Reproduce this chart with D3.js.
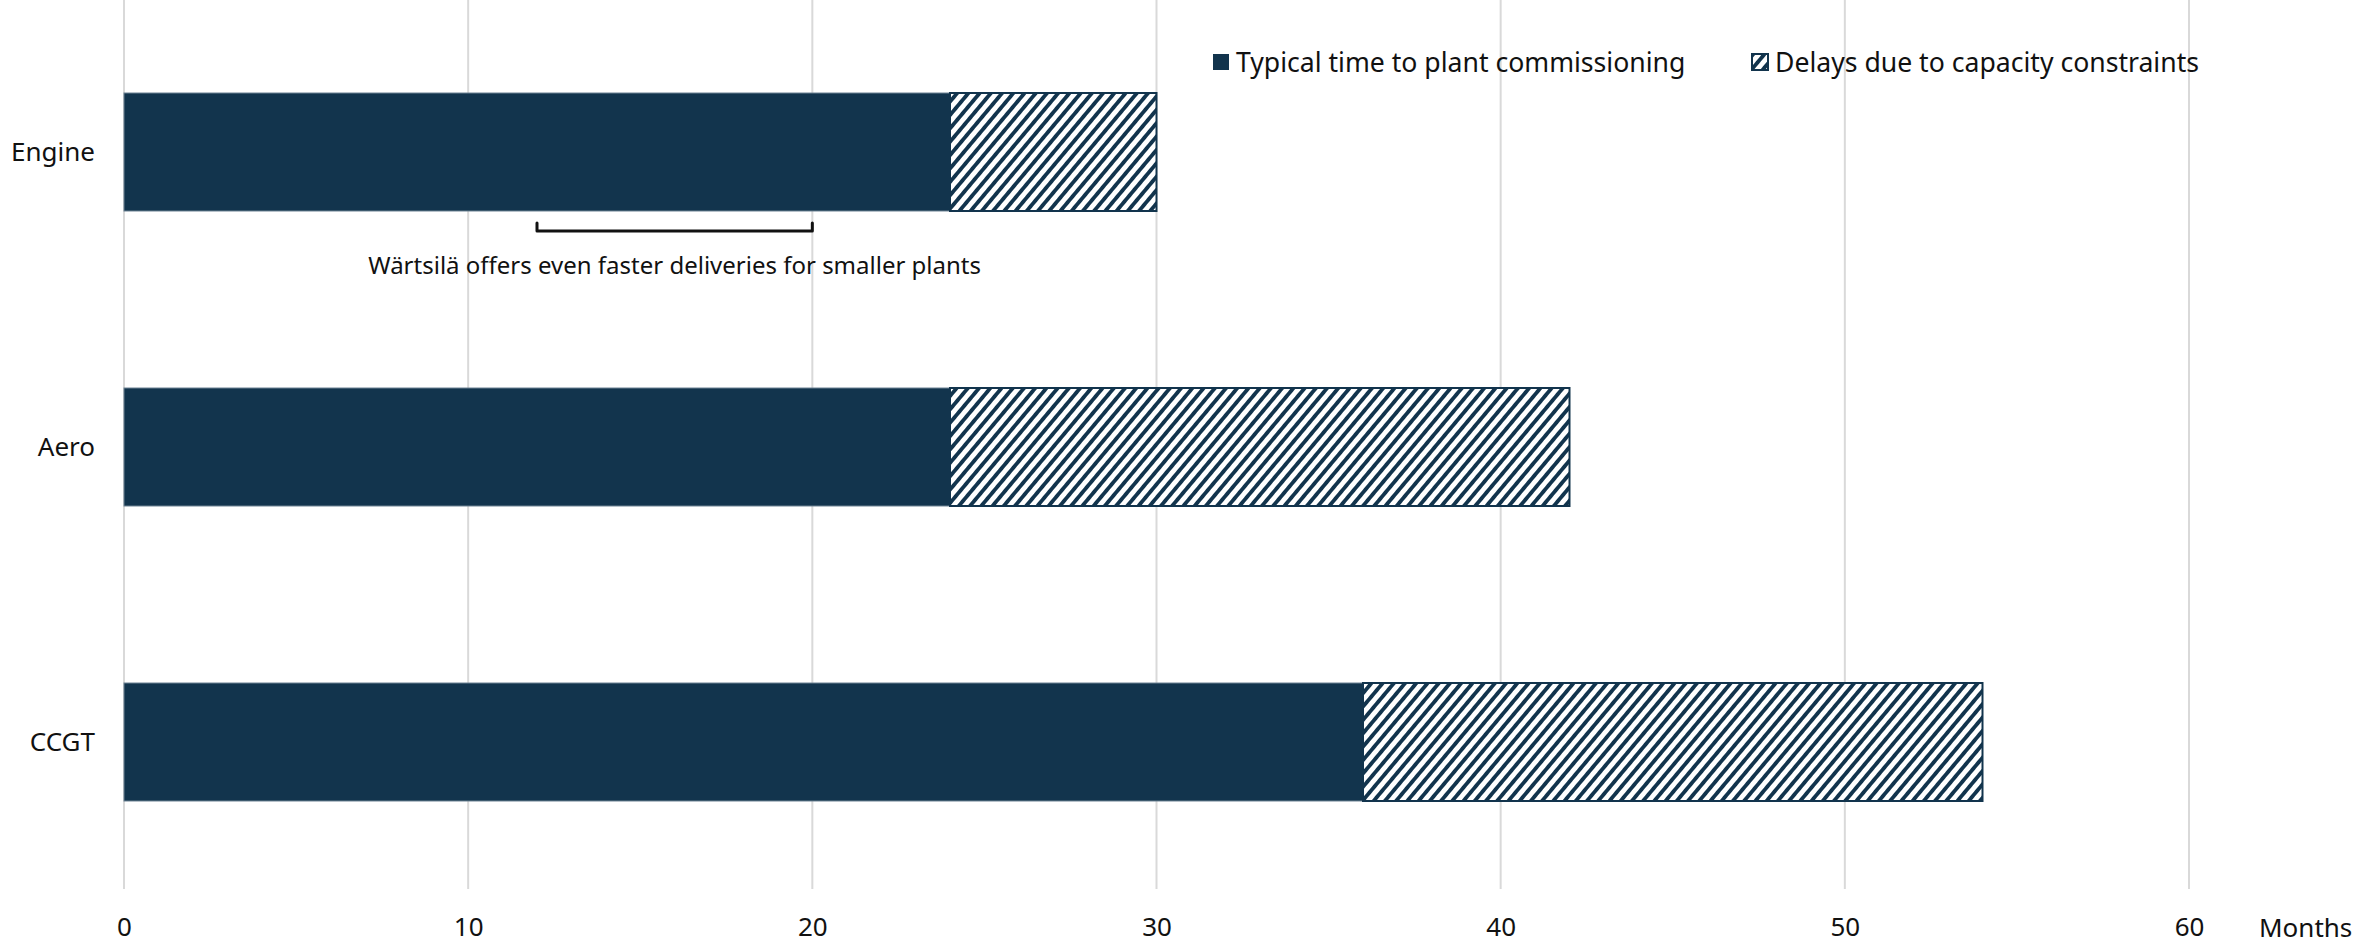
<!DOCTYPE html>
<html>
<head>
<meta charset="utf-8">
<script src="https://cdn.jsdelivr.net/npm/d3@7"></script>
<style>
  html, body { margin: 0; padding: 0; background: #fff; }
  svg text { font-family: "Noto Sans", "Open Sans", sans-serif; fill: #111; }
</style>
</head>
<body>
<div id="chart"></div>
<script>
const categories = ["Engine", "Aero", "CCGT"];
const typicalTime = [24, 24, 36];
const delays = [6, 18, 18];
const xTicks = [0, 10, 20, 30, 40, 50, 60];
const seriesNames = ["Typical time to plant commissioning", "Delays due to capacity constraints"];
const note = { from: 12, to: 20, category: "Engine", text: "Wärtsilä offers even faster deliveries for smaller plants" };

const width = 2369, height = 944;
const navy = "#12344d";
const grid = "#d9d9d9";

const svg = d3.select("#chart").append("svg")
    .attr("width", width)
    .attr("height", height);

// hatch pattern, upward diagonal
const defs = svg.append("defs");
defs.append("pattern")
    .attr("id", "hatch")
    .attr("patternUnits", "userSpaceOnUse")
    .attr("width", 8.6)
    .attr("height", 8.6)
    .attr("patternTransform", "rotate(40)")
    .call(p => {
        p.append("rect").attr("width", 8.6).attr("height", 8.6).attr("fill", "#fff");
        p.append("line")
            .attr("x1", 1.9).attr("x2", 1.9)
            .attr("y1", 0).attr("y2", 8.6)
            .attr("stroke", navy)
            .attr("stroke-width", 3.8);
    });

const x = d3.scaleLinear().domain([0, 60]).range([124, 2189]);
const y = d3.scaleBand().domain(categories).range([4.5, 889.5])
    .paddingInner(0.6).paddingOuter(0.3);

// gridlines
svg.append("g").selectAll("line")
    .data(xTicks)
    .enter()
    .append("line")
    .attr("x1", d => x(d)).attr("x2", d => x(d))
    .attr("y1", 0).attr("y2", 889)
    .attr("stroke", grid)
    .attr("stroke-width", 2);

// x axis labels
const xAxis = d3.axisBottom(x).tickValues(xTicks).tickSize(0).tickPadding(0);
const gx = svg.append("g")
    .attr("transform", "translate(0,918)")
    .call(xAxis);
gx.select(".domain").remove();
gx.selectAll("text")
    .attr("font-size", 26)
    .attr("dy", "0.71em")
    .style("font-family", "'Noto Sans', sans-serif")
    .attr("fill", "#111");

svg.append("text")
    .attr("x", 2259).attr("y", 937)
    .attr("font-size", 26)
    .text("Months");

// category labels
svg.append("g").selectAll("text")
    .data(categories)
    .enter()
    .append("text")
    .attr("x", 95)
    .attr("y", d => y(d) + y.bandwidth() / 2)
    .attr("dy", "0.35em")
    .attr("text-anchor", "end")
    .attr("font-size", 26)
    .text(d => d);

// bars
const rows = categories.map((c, i) => ({ cat: c, typical: typicalTime[i], delay: delays[i] }));

svg.append("g").selectAll("rect")
    .data(rows)
    .enter()
    .append("rect")
    .attr("x", d => x(0))
    .attr("y", d => y(d.cat))
    .attr("width", d => x(d.typical) - x(0))
    .attr("height", y.bandwidth())
    .attr("fill", navy)
    .attr("stroke", "#6d8293")
    .attr("stroke-width", 1);

svg.append("g").selectAll("rect")
    .data(rows)
    .enter()
    .append("rect")
    .attr("x", d => x(d.typical))
    .attr("y", d => y(d.cat))
    .attr("width", d => x(d.typical + d.delay) - x(d.typical))
    .attr("height", y.bandwidth())
    .attr("fill", "url(#hatch)")
    .attr("stroke", navy)
    .attr("stroke-width", 2);

// annotation bracket
const by = y(note.category) + y.bandwidth() + 20;
svg.append("path")
    .attr("d", `M${x(note.from)},${by - 8} V${by} H${x(note.to)} V${by - 8}`)
    .attr("fill", "none")
    .attr("stroke", "#111")
    .attr("stroke-width", 3)
    .attr("stroke-linejoin", "round")
    .attr("stroke-linecap", "round");

svg.append("text")
    .attr("x", (x(note.from) + x(note.to)) / 2)
    .attr("y", by + 43)
    .attr("text-anchor", "middle")
    .attr("font-size", 24)
    .text(note.text);

// legend
const legend = svg.append("g");
const legendX = [1212, 1751];
seriesNames.forEach((name, i) => {
    legend.append("rect")
        .attr("x", legendX[i] + 1).attr("y", 54)
        .attr("width", 16).attr("height", 16)
        .attr("fill", i === 0 ? navy : "url(#hatch)")
        .attr("stroke", navy)
        .attr("stroke-width", i === 0 ? 0 : 2);
    legend.append("text")
        .attr("x", legendX[i] + 24).attr("y", 72)
        .attr("font-size", 26.6)
        .text(name);
});
</script>
</body>
</html>
